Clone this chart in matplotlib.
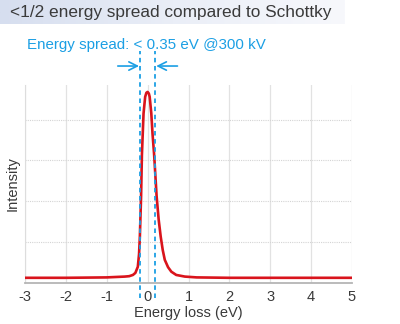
import numpy as np
import matplotlib.pyplot as plt
from matplotlib.colors import LinearSegmentedColormap

# energy loss (eV) vs. intensity of the zero-loss peak
energy = [-3.0, -2.0, -1.0, -0.56, -0.45, -0.36, -0.30, -0.24, -0.21, -0.19,
          -0.16, -0.14, -0.10, -0.06, -0.03, 0.0, 0.03, 0.05, 0.09, 0.12,
          0.16, 0.19, 0.22, 0.27, 0.32, 0.37, 0.42, 0.50, 0.58, 0.70,
          0.91, 1.2, 2.0, 3.0, 4.0, 5.0]
intensity = [0.12, 0.12, 0.13, 0.15, 0.16, 0.19, 0.24, 0.39, 0.70, 1.13,
             2.12, 3.13, 4.15, 4.56, 4.66, 4.68, 4.64, 4.56, 4.15, 3.65,
             3.13, 2.62, 2.12, 1.55, 1.13, 0.80, 0.56, 0.38, 0.27, 0.19,
             0.15, 0.13, 0.12, 0.12, 0.12, 0.12]

spread_lo, spread_hi = -0.19, 0.19
xticks = [-3, -2, -1, 0, 1, 2, 3, 4, 5]

title = "<1/2 energy spread compared to Schottky"
subtitle = "Energy spread: < 0.35 eV @300 kV"

blue = "#1b9fe4"
red = "#d9141c"
txt = "#3a3a3a"

plt.rcParams['font.family'] = ['Liberation Sans', 'DejaVu Sans']

fig = plt.figure(figsize=(4.0, 3.24), dpi=100)

# header bar with a soft gradient
hdr = fig.add_axes([0, 1 - 24 / 324, 345 / 400, 24 / 324])
cmap = LinearSegmentedColormap.from_list("hdr", ["#d6deef", "#eaeef7", "#f7f8fc"])
hdr.imshow(np.linspace(0, 1, 256)[None, :], aspect="auto", cmap=cmap,
           extent=[0, 1, 0, 1])
hdr.set_axis_off()
fig.text(10 / 400, 1 - 13 / 324, title, fontsize=12.45, color=txt,
         ha="left", va="center")
fig.text(27 / 400, 1 - 45 / 324, subtitle, fontsize=10.9, color=blue,
         ha="left", va="center")

ax = fig.add_axes([25 / 400, 1 - 282.7 / 324, 327 / 400, 197.7 / 324])
ax.set_xlim(-3, 5)
ax.set_ylim(0, 4.85)

for x in xticks:
    ax.axvline(x, color="#e2e2e2", lw=0.9, zorder=0)
for y in [1, 2, 3, 4]:
    ax.axhline(y, color="#d4d4d4", lw=0.8, ls=(0, (1, 1)), zorder=0)

ax.plot(energy, intensity, color=red, lw=1.9, solid_capstyle="butt", zorder=3)

# spread markers: dashed verticals and inward arrows
tr = ax.get_xaxis_transform()
for x in (spread_lo, spread_hi):
    ax.plot([x, x], [-0.078, 1.17], transform=tr, color=blue, lw=1.3,
            ls=(0, (2.5, 2)), clip_on=False, zorder=4)
ax.annotate("", xy=(spread_lo - 0.02, 1.096), xytext=(-0.73, 1.096),
            xycoords=tr, textcoords=tr,
            arrowprops=dict(arrowstyle="->", color=blue, lw=1.2,
                            mutation_scale=15, shrinkA=0, shrinkB=0))
ax.annotate("", xy=(spread_hi + 0.02, 1.096), xytext=(0.73, 1.096),
            xycoords=tr, textcoords=tr,
            arrowprops=dict(arrowstyle="->", color=blue, lw=1.2,
                            mutation_scale=15, shrinkA=0, shrinkB=0))

for s in ["top", "right"]:
    ax.spines[s].set_visible(False)
ax.spines["left"].set_color("#dddddd")
ax.spines["bottom"].set_color("#b5b5b5")
ax.spines["bottom"].set_linewidth(1.3)

ax.set_xticks(xticks)
ax.set_xticklabels([str(t) for t in xticks])
ax.set_yticks([])
ax.tick_params(axis="x", length=0, pad=5, labelsize=10.5, labelcolor=txt)
ax.set_xlabel("Energy loss (eV)", fontsize=10.5, color=txt, labelpad=2)
ax.set_ylabel("Intensity", fontsize=10.5, color=txt, labelpad=4)

fig.savefig("out.png", dpi=100)
